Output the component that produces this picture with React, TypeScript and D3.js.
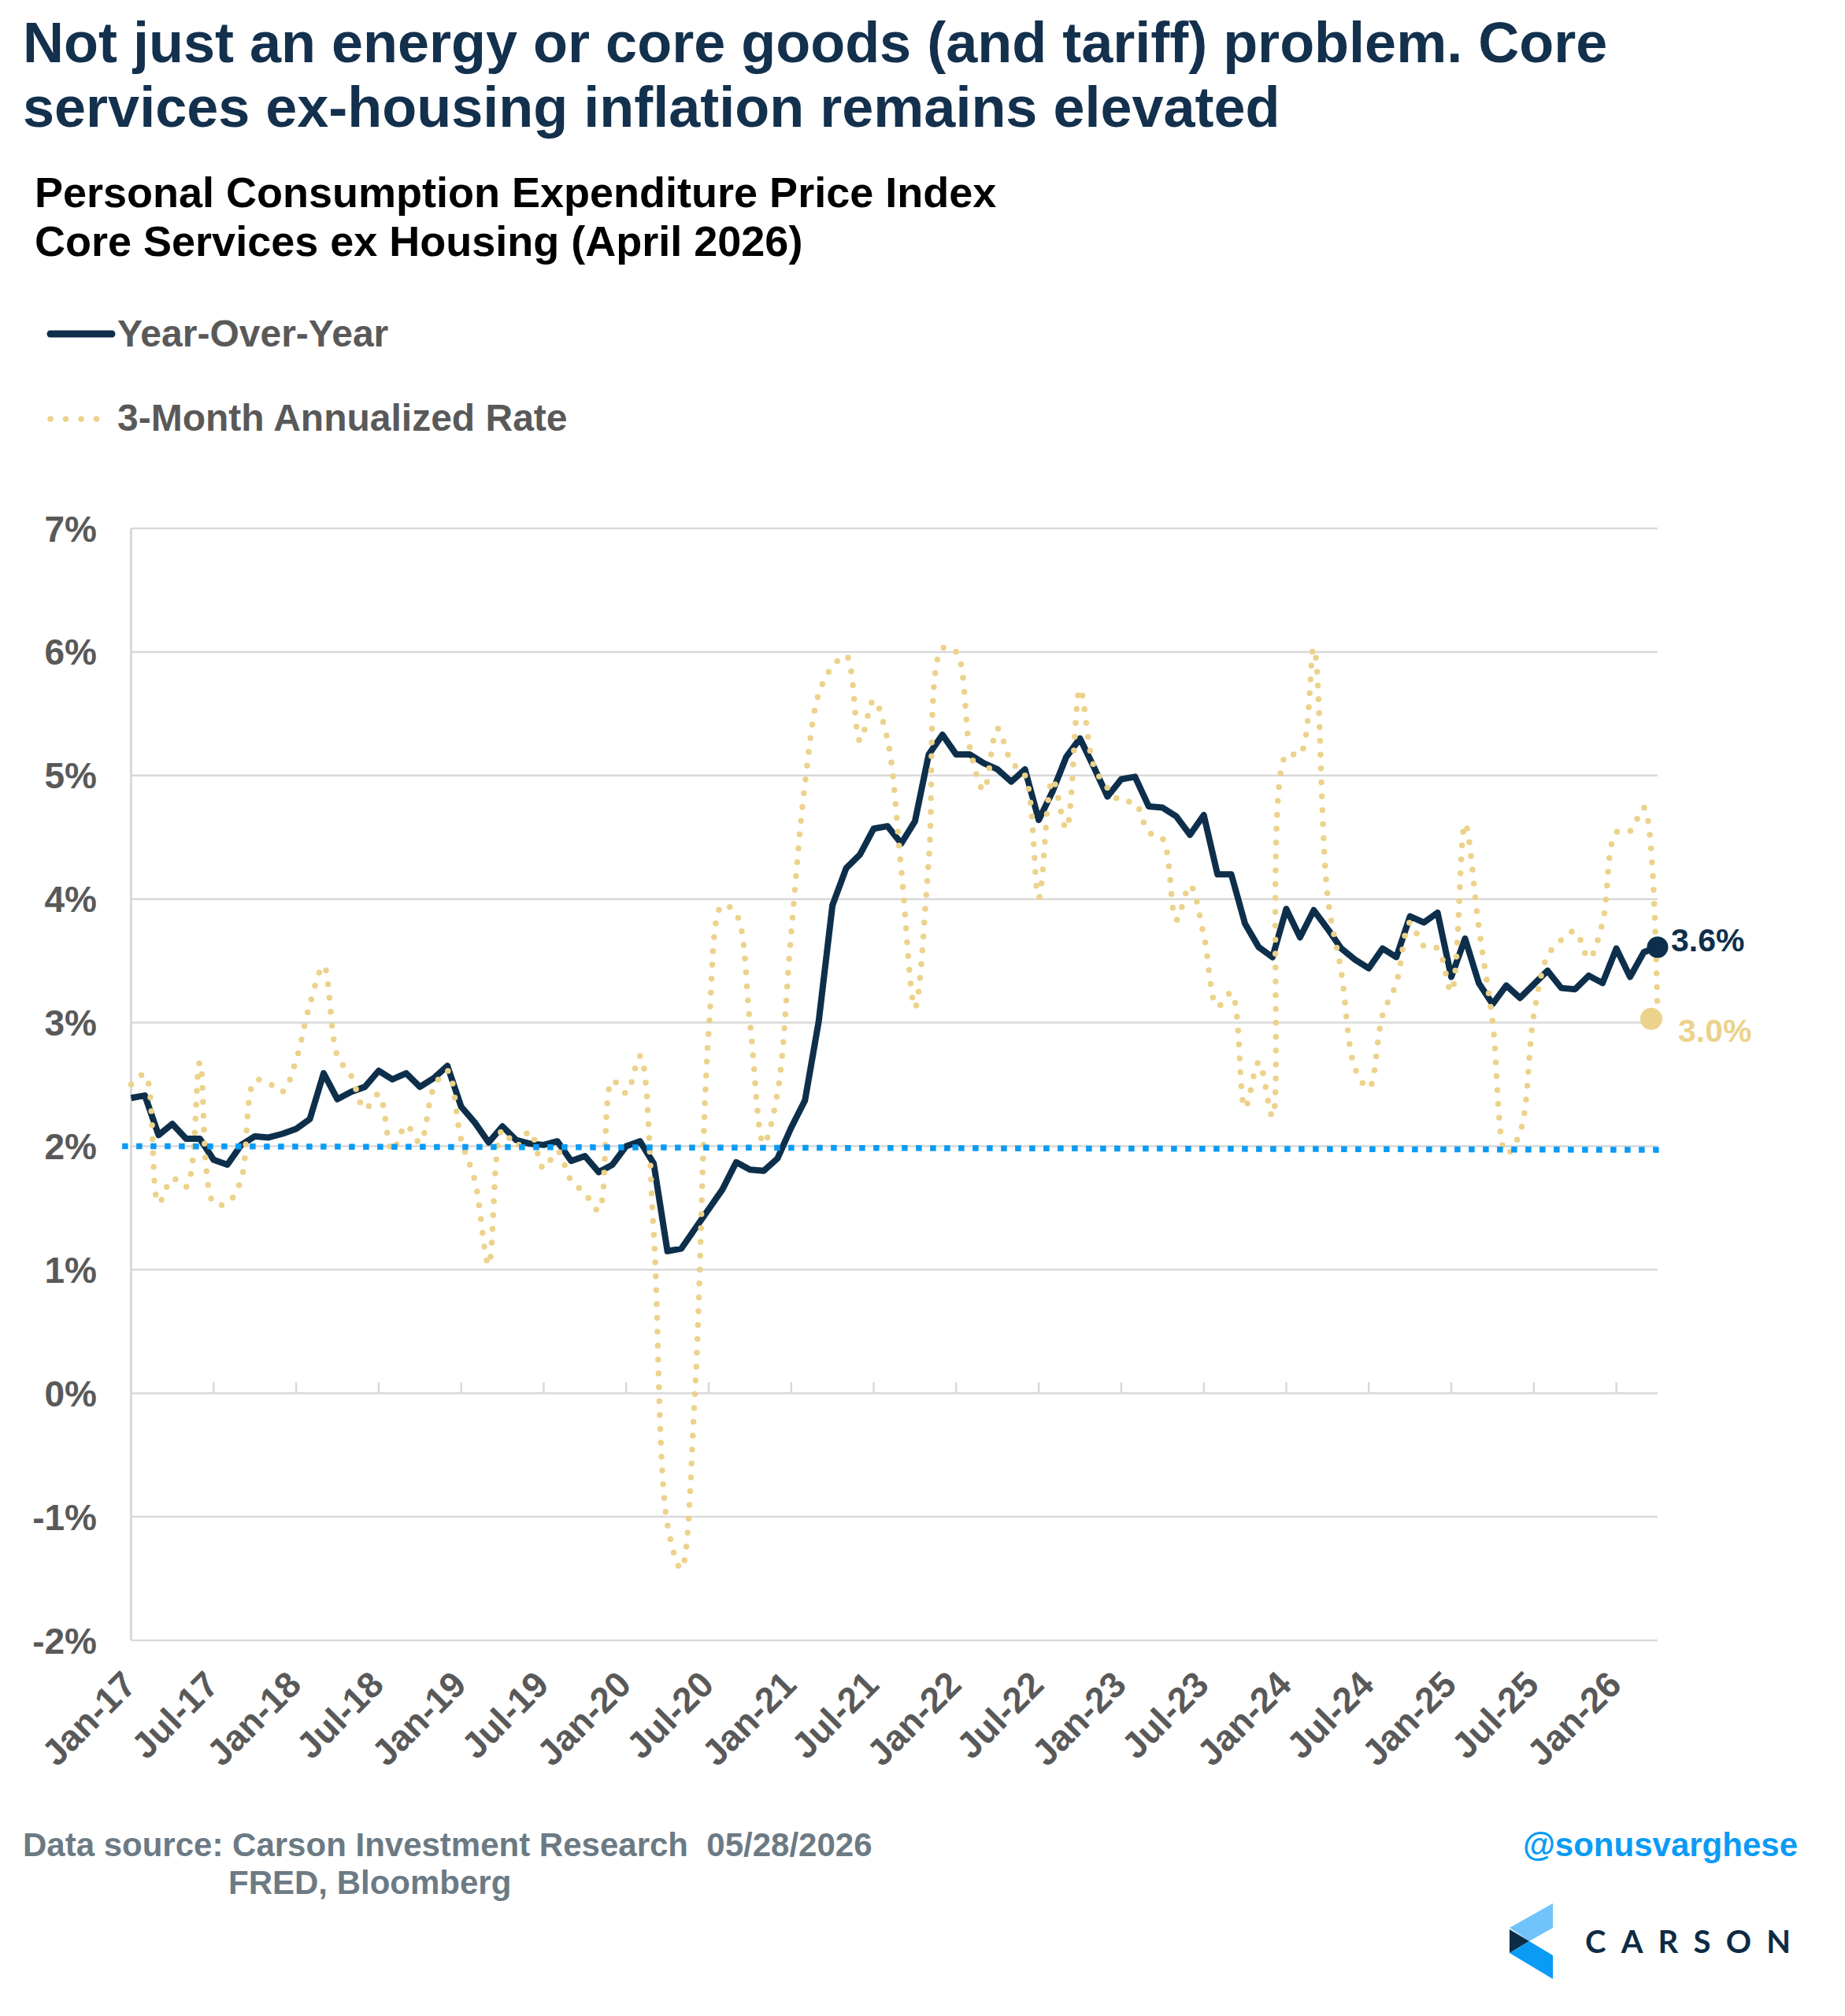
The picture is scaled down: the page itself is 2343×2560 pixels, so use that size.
import * as d3 from 'd3'

// PCE core services ex housing, monthly Jan-17 .. Apr-26
const yoy = [
  2.39, 2.41, 2.09, 2.18, 2.06, 2.06, 1.89, 1.85, 2.01, 2.08, 2.07, 2.10,
  2.14, 2.22, 2.59, 2.38, 2.44, 2.48, 2.61, 2.54, 2.59, 2.48, 2.55, 2.65,
  2.32, 2.19, 2.03, 2.16, 2.05, 2.02, 2.01, 2.04, 1.88, 1.92, 1.79, 1.85,
  2.00, 2.04, 1.86, 1.15, 1.17, 1.33, 1.49, 1.65, 1.87, 1.81, 1.80, 1.90,
  2.15, 2.37, 3.01, 3.95, 4.25, 4.36, 4.57, 4.59, 4.45, 4.63, 5.17, 5.33,
  5.17, 5.17, 5.10, 5.05, 4.95, 5.05, 4.64, 4.87, 5.15, 5.30, 5.07, 4.83,
  4.97, 4.99, 4.75, 4.74, 4.67, 4.52, 4.68, 4.20, 4.20, 3.80, 3.61, 3.53,
  3.92, 3.69, 3.91, 3.76, 3.60, 3.51, 3.44, 3.60, 3.53, 3.86, 3.81, 3.89,
  3.37, 3.68, 3.32, 3.15, 3.30, 3.20, 3.31, 3.42, 3.28, 3.27, 3.38, 3.32,
  3.60, 3.37, 3.57, 3.61,
]

const threeMonth = [
  2.50, 2.58, 1.54, 1.74, 1.67, 2.68, 1.54, 1.54, 1.73, 2.53, 2.51, 2.44,
  2.70, 3.15, 3.46, 2.73, 2.57, 2.30, 2.42, 1.96, 2.17, 2.03, 2.47, 2.61,
  2.05, 1.72, 1.04, 2.13, 2.00, 2.12, 1.82, 1.96, 1.72, 1.62, 1.48, 2.53,
  2.43, 2.73, 1.30, -1.06, -1.42, 0.00, 2.93, 3.95, 3.88, 3.00, 2.02, 2.43,
  3.73, 4.93, 5.66, 5.88, 5.97, 5.28, 5.61, 5.29, 4.24, 3.12, 4.31, 6.03,
  6.00, 5.22, 4.88, 5.38, 5.11, 5.00, 4.01, 4.97, 4.57, 5.70, 5.08, 4.90,
  4.79, 4.78, 4.54, 4.49, 3.83, 4.11, 3.71, 3.13, 3.24, 2.31, 2.68, 2.24,
  5.17, 5.17, 6.03, 4.03, 3.41, 2.63, 2.47, 3.06, 3.32, 3.81, 3.62, 3.60,
  3.25, 4.61, 3.77, 3.01, 1.94, 2.11, 3.06, 3.54, 3.67, 3.74, 3.52, 3.81,
  4.54, 4.55, 4.74, 3.03,
]

const months = d3.timeMonth.range(new Date(2017, 0, 1), new Date(2026, 4, 1))
const fmtMonth = d3.timeFormat('%b-%y')

const tickLabels = [
  'Jan-17', 'Jul-17', 'Jan-18', 'Jul-18', 'Jan-19', 'Jul-19', 'Jan-20', 'Jul-20',
  'Jan-21', 'Jul-21', 'Jan-22', 'Jul-22', 'Jan-23', 'Jul-23', 'Jan-24', 'Jul-24',
  'Jan-25', 'Jul-25', 'Jan-26',
]
const yTicks = [-2, -1, 0, 1, 2, 3, 4, 5, 6, 7]
const target = [2.0, 1.97] // Fed 2% line, start / end

const W = 2343
const H = 2560
const NAVY = '#0d2f4b'
const GOLD = '#ecd28b'
const BLUE = '#0a9bf5'
const GRAY = '#595959'
const FOOT = '#6c7a84'
const GRID = '#d9d9d9'
const FONT = '"Liberation Sans", Arial, sans-serif'

export default function App() {
  const keys = months.map(fmtMonth)
  const x = d3.scalePoint<string>().domain(keys).range([166.5, 2105])
  const step = x.step()
  const y = d3.scaleLinear().domain([-2, 7]).range([2083, 671])
  const left = x(keys[0])!
  const right = x(keys[keys.length - 1])!

  const line = d3.line<number>()
    .x((_, i) => x(keys[i])!)
    .y(d => y(d))

  const smooth = d3.line<number>()
    .x((_, i) => x(keys[i])!)
    .y(d => y(d))
    .curve(d3.curveCatmullRom)

  const tx0 = left - 0.65 * step
  const tx1 = right + 0.45 * step

  const lastYoy = yoy[yoy.length - 1]
  const last3m = threeMonth[threeMonth.length - 1]

  return (
    <svg width={W} height={H} style={{ position: 'absolute', left: 0, top: 0, background: '#fff' }}
      fontFamily={FONT}>
      {/* titles */}
      <text x={29} y={79} fontSize={72} fontWeight={700} fill="#13304d">
        Not just an energy or core goods (and tariff) problem. Core
      </text>
      <text x={29} y={161} fontSize={72} fontWeight={700} fill="#13304d">
        services ex-housing inflation remains elevated
      </text>
      <text x={44} y={263} fontSize={54} fontWeight={700} fill="#000">
        Personal Consumption Expenditure Price Index
      </text>
      <text x={44} y={325} fontSize={54} fontWeight={700} fill="#000">
        Core Services ex Housing (April 2026)
      </text>

      {/* legend */}
      <line x1={64} x2={142} y1={424} y2={424} stroke={NAVY} strokeWidth={9} strokeLinecap="round" />
      <text x={149} y={440} fontSize={48} fontWeight={700} fill={GRAY}>Year-Over-Year</text>
      <line x1={64} x2={142} y1={532} y2={532} stroke={GOLD} strokeWidth={7.5} strokeLinecap="round"
        strokeDasharray="0 19.5" />
      <text x={149} y={547} fontSize={48} fontWeight={700} fill={GRAY}>3-Month Annualized Rate</text>

      {/* grid */}
      {yTicks.map(t => (
        <g key={t}>
          <line x1={left} x2={right} y1={y(t)} y2={y(t)} stroke={GRID} strokeWidth={2.5} />
          <text x={123} y={y(t)} dy="0.36em" textAnchor="end" fontSize={46} fontWeight={700} fill={GRAY}>
            {`${t}%`}
          </text>
        </g>
      ))}
      <line x1={left} x2={left} y1={y(7)} y2={y(-2)} stroke={GRID} strokeWidth={3} />

      {/* x ticks at 0% and rotated labels at the bottom */}
      {tickLabels.map(lab => {
        const px = x(lab)!
        return (
          <g key={lab}>
            <line x1={px} x2={px} y1={y(0)} y2={y(0) - 14} stroke={GRID} strokeWidth={2.5} />
            <text transform={`translate(${px + 9},${y(-2) + 59}) rotate(-45)`} textAnchor="end"
              fontSize={46} fontWeight={700} fill={GRAY}>
              {lab}
            </text>
          </g>
        )
      })}

      {/* series */}
      <path d={line(yoy)!} fill="none" stroke={NAVY} strokeWidth={8} strokeLinejoin="round" />
      <path d={smooth(threeMonth)!} fill="none" stroke={GOLD} strokeWidth={7.5} strokeLinecap="round"
        strokeDasharray="0 17.6" />
      <line x1={tx0} x2={tx1} y1={y(target[0])} y2={y(target[1])} stroke={BLUE} strokeWidth={7.5}
        strokeDasharray="7.5 10.5" />

      {/* end markers */}
      <circle cx={right} cy={y(lastYoy)} r={13.5} fill={NAVY} />
      <text x={2122} y={y(lastYoy) + 5} fontSize={41} fontWeight={700} fill={NAVY}>
        {`${lastYoy.toFixed(1)}%`}
      </text>
      <circle cx={right - 8} cy={y(last3m)} r={14} fill={GOLD} />
      <text x={2131} y={y(last3m) + 29} fontSize={41} fontWeight={700} fill={GOLD}>
        {`${last3m.toFixed(1)}%`}
      </text>

      {/* footer */}
      <text x={29} y={2357} fontSize={42} fontWeight={700} fill={FOOT} style={{ whiteSpace: 'pre' }}>
        {'Data source: Carson Investment Research  05/28/2026'}
      </text>
      <text x={290} y={2405} fontSize={42} fontWeight={700} fill={FOOT}>FRED, Bloomberg</text>
      <text x={2283} y={2357} textAnchor="end" fontSize={42} fontWeight={700} fill={BLUE}>@sonusvarghese</text>

      {/* logo */}
      <polygon points="1917,2448 1972,2417 1972,2448 1942,2465" fill="#70c4fb" />
      <polygon points="1917,2450 1942,2465 1917,2480" fill="#0d2b45" />
      <polygon points="1917,2480 1942,2465 1972,2483 1972,2513" fill="#0a9bf5" />
      <text x={2013} y={2480} fontSize={40} fontFamily="Lato, sans-serif" fontWeight={700} fill="#0d2b45"
        textLength={261} lengthAdjust="spacing">
        CARSON
      </text>
    </svg>
  )
}
